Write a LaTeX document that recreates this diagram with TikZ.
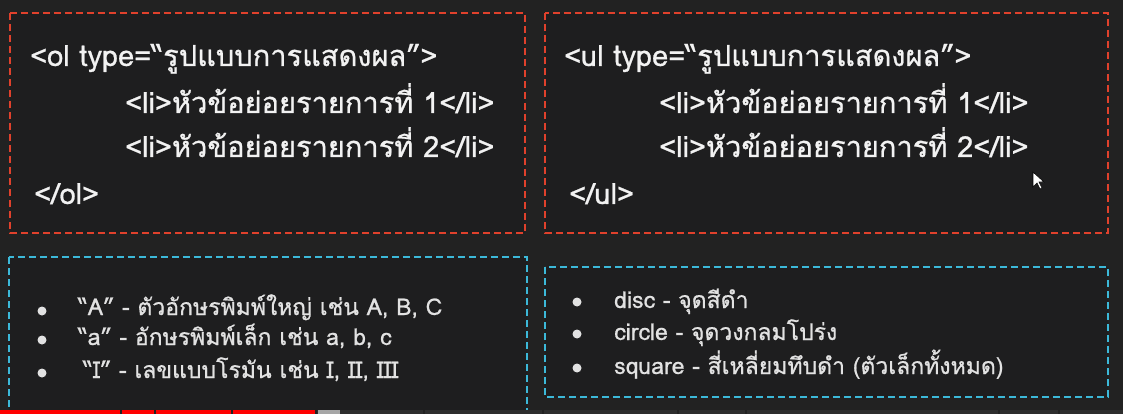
\documentclass[tikz,border=0pt]{standalone}
\usepackage{fontspec}
\setmainfont[Script=Thai,FakeBold=0.8]{Loma}
\usetikzlibrary{positioning}
\definecolor{bgdark}{HTML}{222222}
\definecolor{boxin}{HTML}{1E1E1F}
\definecolor{boxred}{HTML}{E0412C}
\definecolor{boxcyan}{HTML}{3CB9D9}
\definecolor{txtlight}{HTML}{F2F2F2}
\definecolor{txtgray}{HTML}{E2E2E2}

\begin{document}
\begin{tikzpicture}[x=1pt,y=-1pt,
	redbox/.style={draw=boxred,fill=boxin,line width=1.4pt,dash pattern=on 7pt off 4pt},
	cyanbox/.style={draw=boxcyan,fill=boxin,line width=1.4pt,dash pattern=on 7pt off 4pt},
	code/.style={text=txtlight,font=\fontsize{29}{32}\selectfont,anchor=base west,inner sep=0pt},
	item/.style={text=txtgray,font=\fontsize{23}{26}\selectfont,anchor=base west,inner sep=0pt},
	dot/.style={circle,fill=txtgray,minimum size=9pt,inner sep=0pt}]
		\fill[bgdark] (0,0) rectangle (1123,414);
		\clip (0,0) rectangle (1123,414);
		\draw[redbox] (10,13) rectangle (525,233);
		\draw[redbox] (545,13) rectangle (1108,233);
		\draw[cyanbox] (9,257) rectangle (527,440);
		\draw[cyanbox] (545,267) rectangle (1108,397);
		\node[code] (ol1) at (30,66) {<ol type=“รูปแบบการแสดงผล”>};
		\node[code] (ol2) at (125,113) {<li>หัวข้อย่อยรายการที่ 1</li>};
		\node[code] (ol3) at (125,157) {<li>หัวข้อย่อยรายการที่ 2</li>};
		\node[code] (ol4) at (34,204) {</ol>};
		\node[code] (ul1) at (564,66) {<ul type=“รูปแบบการแสดงผล”>};
		\node[code] (ul2) at (659,113) {<li>หัวข้อย่อยรายการที่ 1</li>};
		\node[code] (ul3) at (659,157) {<li>หัวข้อย่อยรายการที่ 2</li>};
		\node[code] (ul4) at (569,204) {</ul>};
		\node[dot] (da) at (42,311) {};
		\node[dot] (db) at (42,340) {};
		\node[dot] (dc) at (42,373) {};
		\node[item] (ta) at (78,315) {“A” - ตัวอักษรพิมพ์ใหญ่ เช่น A, B, C};
		\node[item] (tb) at (78,345) {“a” - อักษรพิมพ์เล็ก เช่น a, b, c};
		\node[item] (tc) at (83,378) {“I” - เลขแบบโรมัน เช่น I, II, III};
		\node[dot] (dd) at (577,302) {};
		\node[dot] (de) at (577,334) {};
		\node[dot] (df) at (577,368) {};
		\node[item] (td) at (614,308) {disc - จุดสีดำ};
		\node[item] (te) at (614,340) {circle - จุดวงกลมโปร่ง};
		\node[item] (tf) at (614,374) {square - สี่เหลี่ยมทึบดำ (ตัวเล็กทั้งหมด)};
		\fill[white,draw=black,line width=0.6pt] (1033,172) -- (1033,187) -- (1037,183) -- (1040,189) -- (1042,188) -- (1039,182) -- (1044,182) -- cycle;
		\fill[gray!35!black] (315,410) rectangle (1123,414);
		\fill[red] (0,410) rectangle (315,414);
		\fill[gray!70] (318,410) rectangle (340,414);
		\foreach \s in {120,154,231,315,423,542,677,745,998,1058}
			\fill[bgdark] (\s,410) rectangle +(2,4);
\end{tikzpicture}
\end{document}
